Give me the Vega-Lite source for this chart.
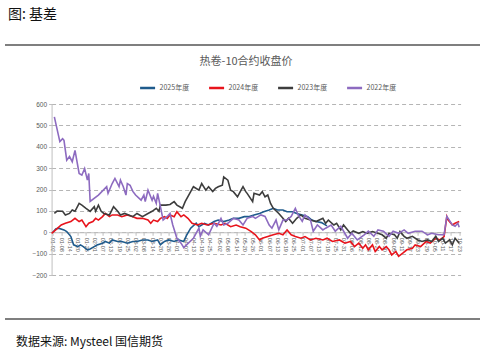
{
"$schema":"https://vega.github.io/schema/vega-lite/v6.json",
"padding":{"left":5,"right":5,"top":8,"bottom":3},
"autosize":{"type":"pad"},
"background":"#ffffff",
"title":{"text":"图: 基差","anchor":"start","fontSize":14,"fontWeight":"normal","font":"Noto Sans CJK SC","color":"#111111","offset":22,"dx":3},
"center":true,
"spacing":10,
"resolve":{"legend":{"color":"independent"}},
"config":{"view":{"stroke":null},"font":"Noto Sans CJK SC"},
"vconcat":[
{"width":504,"height":2,"data":{"values":[]},"mark":"rule","encoding":{},"view":{"fill":"#7f7f7f","stroke":null}},
{"width":409,"height":171,
"title":{"text":"热卷-10合约收盘价","fontSize":11,"fontWeight":"normal","color":"#595959","font":"Noto Sans CJK SC","frame":"group","offset":12,"dx":-10},
"data":{"values":[
{"s":"2025年度","d":"2020-01-02","v":0},{"s":"2025年度","d":"2020-01-04","v":15},{"s":"2025年度","d":"2020-01-06","v":19},{"s":"2025年度","d":"2020-01-10","v":11},{"s":"2025年度","d":"2020-01-12","v":3},{"s":"2025年度","d":"2020-01-15","v":-20},{"s":"2025年度","d":"2020-01-17","v":-59},{"s":"2025年度","d":"2020-01-20","v":-67},{"s":"2025年度","d":"2020-01-22","v":-59},{"s":"2025年度","d":"2020-01-24","v":-67},{"s":"2025年度","d":"2020-01-27","v":-82},{"s":"2025年度","d":"2020-01-29","v":-78},{"s":"2025年度","d":"2020-02-01","v":-67},{"s":"2025年度","d":"2020-02-03","v":-59},{"s":"2025年度","d":"2020-02-07","v":-51},{"s":"2025年度","d":"2020-02-09","v":-43},{"s":"2025年度","d":"2020-02-12","v":-51},{"s":"2025年度","d":"2020-02-14","v":-36},{"s":"2025年度","d":"2020-02-18","v":-43},{"s":"2025年度","d":"2020-02-21","v":-43},{"s":"2025年度","d":"2020-02-25","v":-51},{"s":"2025年度","d":"2020-02-29","v":-43},{"s":"2025年度","d":"2020-03-03","v":-43},{"s":"2025年度","d":"2020-03-07","v":-36},{"s":"2025年度","d":"2020-03-11","v":-36},{"s":"2025年度","d":"2020-03-14","v":-43},{"s":"2025年度","d":"2020-03-18","v":-36},{"s":"2025年度","d":"2020-03-20","v":-59},{"s":"2025年度","d":"2020-03-23","v":-43},{"s":"2025年度","d":"2020-03-26","v":-36},{"s":"2025年度","d":"2020-03-30","v":-43},{"s":"2025年度","d":"2020-04-02","v":-36},{"s":"2025年度","d":"2020-04-06","v":-43},{"s":"2025年度","d":"2020-04-08","v":-15},{"s":"2025年度","d":"2020-04-11","v":19},{"s":"2025年度","d":"2020-04-15","v":42},{"s":"2025年度","d":"2020-04-17","v":26},{"s":"2025年度","d":"2020-04-21","v":42},{"s":"2025年度","d":"2020-04-24","v":34},{"s":"2025年度","d":"2020-04-28","v":50},{"s":"2025年度","d":"2020-05-01","v":57},{"s":"2025年度","d":"2020-05-05","v":50},{"s":"2025年度","d":"2020-05-09","v":57},{"s":"2025年度","d":"2020-05-12","v":65},{"s":"2025年度","d":"2020-05-16","v":65},{"s":"2025年度","d":"2020-05-20","v":73},{"s":"2025年度","d":"2020-05-23","v":73},{"s":"2025年度","d":"2020-05-27","v":81},{"s":"2025年度","d":"2020-05-31","v":88},{"s":"2025年度","d":"2020-06-03","v":96},{"s":"2025年度","d":"2020-06-07","v":104},{"s":"2025年度","d":"2020-06-10","v":112},{"s":"2025年度","d":"2020-06-13","v":104},{"s":"2025年度","d":"2020-06-17","v":104},{"s":"2025年度","d":"2020-06-20","v":96},{"s":"2025年度","d":"2020-06-24","v":96},{"s":"2025年度","d":"2020-06-27","v":88},{"s":"2025年度","d":"2020-07-01","v":81},{"s":"2025年度","d":"2020-07-05","v":73},{"s":"2025年度","d":"2020-07-08","v":57},{"s":"2025年度","d":"2020-07-11","v":50},{"s":"2025年度","d":"2020-07-15","v":45},{"s":"2025年度","d":"2020-07-19","v":30},
{"s":"2024年度","d":"2020-01-01","v":-5},{"s":"2024年度","d":"2020-01-04","v":11},{"s":"2024年度","d":"2020-01-08","v":34},{"s":"2024年度","d":"2020-01-11","v":42},{"s":"2024年度","d":"2020-01-15","v":50},{"s":"2024年度","d":"2020-01-18","v":65},{"s":"2024年度","d":"2020-01-21","v":50},{"s":"2024年度","d":"2020-01-23","v":57},{"s":"2024年度","d":"2020-01-26","v":26},{"s":"2024年度","d":"2020-01-28","v":42},{"s":"2024年度","d":"2020-01-31","v":50},{"s":"2024年度","d":"2020-02-02","v":65},{"s":"2024年度","d":"2020-02-04","v":57},{"s":"2024年度","d":"2020-02-07","v":73},{"s":"2024年度","d":"2020-02-09","v":88},{"s":"2024年度","d":"2020-02-12","v":73},{"s":"2024年度","d":"2020-02-14","v":81},{"s":"2024年度","d":"2020-02-18","v":81},{"s":"2024年度","d":"2020-02-21","v":73},{"s":"2024年度","d":"2020-02-25","v":81},{"s":"2024年度","d":"2020-02-29","v":73},{"s":"2024年度","d":"2020-03-03","v":65},{"s":"2024年度","d":"2020-03-07","v":65},{"s":"2024年度","d":"2020-03-11","v":57},{"s":"2024年度","d":"2020-03-13","v":42},{"s":"2024年度","d":"2020-03-15","v":57},{"s":"2024年度","d":"2020-03-18","v":50},{"s":"2024年度","d":"2020-03-20","v":65},{"s":"2024年度","d":"2020-03-23","v":73},{"s":"2024年度","d":"2020-03-25","v":65},{"s":"2024年度","d":"2020-03-27","v":81},{"s":"2024年度","d":"2020-03-30","v":73},{"s":"2024年度","d":"2020-04-01","v":96},{"s":"2024年度","d":"2020-04-04","v":73},{"s":"2024年度","d":"2020-04-06","v":81},{"s":"2024年度","d":"2020-04-09","v":65},{"s":"2024年度","d":"2020-04-12","v":42},{"s":"2024年度","d":"2020-04-16","v":34},{"s":"2024年度","d":"2020-04-19","v":42},{"s":"2024年度","d":"2020-04-23","v":34},{"s":"2024年度","d":"2020-04-28","v":42},{"s":"2024年度","d":"2020-05-03","v":34},{"s":"2024年度","d":"2020-05-06","v":42},{"s":"2024年度","d":"2020-05-10","v":26},{"s":"2024年度","d":"2020-05-14","v":34},{"s":"2024年度","d":"2020-05-17","v":26},{"s":"2024年度","d":"2020-05-21","v":19},{"s":"2024年度","d":"2020-05-25","v":3},{"s":"2024年度","d":"2020-05-28","v":-12},{"s":"2024年度","d":"2020-05-31","v":-36},{"s":"2024年度","d":"2020-06-02","v":-28},{"s":"2024年度","d":"2020-06-06","v":-20},{"s":"2024年度","d":"2020-06-10","v":-12},{"s":"2024年度","d":"2020-06-14","v":-5},{"s":"2024年度","d":"2020-06-17","v":-12},{"s":"2024年度","d":"2020-06-20","v":11},{"s":"2024年度","d":"2020-06-23","v":-12},{"s":"2024年度","d":"2020-06-26","v":-20},{"s":"2024年度","d":"2020-06-30","v":-28},{"s":"2024年度","d":"2020-07-03","v":-20},{"s":"2024年度","d":"2020-07-07","v":-36},{"s":"2024年度","d":"2020-07-11","v":-28},{"s":"2024年度","d":"2020-07-16","v":-36},{"s":"2024年度","d":"2020-07-19","v":-28},{"s":"2024年度","d":"2020-07-23","v":-43},{"s":"2024年度","d":"2020-07-28","v":-36},{"s":"2024年度","d":"2020-08-01","v":-51},{"s":"2024年度","d":"2020-08-05","v":-43},{"s":"2024年度","d":"2020-08-08","v":-67},{"s":"2024年度","d":"2020-08-11","v":-51},{"s":"2024年度","d":"2020-08-14","v":-75},{"s":"2024年度","d":"2020-08-16","v":-59},{"s":"2024年度","d":"2020-08-18","v":-82},{"s":"2024年度","d":"2020-08-21","v":-59},{"s":"2024年度","d":"2020-08-23","v":-90},{"s":"2024年度","d":"2020-08-26","v":-67},{"s":"2024年度","d":"2020-08-28","v":-82},{"s":"2024年度","d":"2020-08-31","v":-67},{"s":"2024年度","d":"2020-09-02","v":-82},{"s":"2024年度","d":"2020-09-04","v":-106},{"s":"2024年度","d":"2020-09-07","v":-90},{"s":"2024年度","d":"2020-09-09","v":-113},{"s":"2024年度","d":"2020-09-12","v":-98},{"s":"2024年度","d":"2020-09-15","v":-82},{"s":"2024年度","d":"2020-09-19","v":-75},{"s":"2024年度","d":"2020-09-21","v":-59},{"s":"2024年度","d":"2020-09-25","v":-67},{"s":"2024年度","d":"2020-09-29","v":-43},{"s":"2024年度","d":"2020-10-02","v":-51},{"s":"2024年度","d":"2020-10-06","v":-28},{"s":"2024年度","d":"2020-10-09","v":-36},{"s":"2024年度","d":"2020-10-12","v":-20},{"s":"2024年度","d":"2020-10-14","v":73},{"s":"2024年度","d":"2020-10-15","v":57},{"s":"2024年度","d":"2020-10-18","v":34},{"s":"2024年度","d":"2020-10-20","v":42},{"s":"2024年度","d":"2020-10-23","v":50},
{"s":"2023年度","d":"2020-01-03","v":88},{"s":"2023年度","d":"2020-01-05","v":99},{"s":"2023年度","d":"2020-01-09","v":98},{"s":"2023年度","d":"2020-01-11","v":81},{"s":"2023年度","d":"2020-01-14","v":88},{"s":"2023年度","d":"2020-01-16","v":104},{"s":"2023年度","d":"2020-01-18","v":98},{"s":"2023年度","d":"2020-01-21","v":135},{"s":"2023年度","d":"2020-01-23","v":127},{"s":"2023年度","d":"2020-01-26","v":112},{"s":"2023年度","d":"2020-01-29","v":98},{"s":"2023年度","d":"2020-02-01","v":120},{"s":"2023年度","d":"2020-02-02","v":98},{"s":"2023年度","d":"2020-02-04","v":127},{"s":"2023年度","d":"2020-02-06","v":98},{"s":"2023年度","d":"2020-02-08","v":88},{"s":"2023年度","d":"2020-02-12","v":81},{"s":"2023年度","d":"2020-02-15","v":120},{"s":"2023年度","d":"2020-02-18","v":98},{"s":"2023年度","d":"2020-02-20","v":81},{"s":"2023年度","d":"2020-02-23","v":88},{"s":"2023年度","d":"2020-02-26","v":81},{"s":"2023年度","d":"2020-02-29","v":73},{"s":"2023年度","d":"2020-03-03","v":88},{"s":"2023年度","d":"2020-03-07","v":73},{"s":"2023年度","d":"2020-03-11","v":88},{"s":"2023年度","d":"2020-03-14","v":98},{"s":"2023年度","d":"2020-03-17","v":112},{"s":"2023年度","d":"2020-03-19","v":98},{"s":"2023年度","d":"2020-03-20","v":127},{"s":"2023年度","d":"2020-03-24","v":127},{"s":"2023年度","d":"2020-03-27","v":130},{"s":"2023年度","d":"2020-03-30","v":143},{"s":"2023年度","d":"2020-04-01","v":127},{"s":"2023年度","d":"2020-04-05","v":112},{"s":"2023年度","d":"2020-04-07","v":143},{"s":"2023年度","d":"2020-04-11","v":190},{"s":"2023年度","d":"2020-04-13","v":213},{"s":"2023年度","d":"2020-04-17","v":197},{"s":"2023年度","d":"2020-04-19","v":228},{"s":"2023年度","d":"2020-04-22","v":197},{"s":"2023年度","d":"2020-04-24","v":213},{"s":"2023年度","d":"2020-04-27","v":190},{"s":"2023年度","d":"2020-04-29","v":205},{"s":"2023年度","d":"2020-05-01","v":213},{"s":"2023年度","d":"2020-05-04","v":220},{"s":"2023年度","d":"2020-05-05","v":259},{"s":"2023年度","d":"2020-05-08","v":244},{"s":"2023年度","d":"2020-05-10","v":197},{"s":"2023年度","d":"2020-05-12","v":190},{"s":"2023年度","d":"2020-05-15","v":166},{"s":"2023年度","d":"2020-05-17","v":190},{"s":"2023年度","d":"2020-05-19","v":213},{"s":"2023年度","d":"2020-05-21","v":190},{"s":"2023年度","d":"2020-05-22","v":182},{"s":"2023年度","d":"2020-05-26","v":143},{"s":"2023年度","d":"2020-05-27","v":182},{"s":"2023年度","d":"2020-05-31","v":174},{"s":"2023年度","d":"2020-06-02","v":190},{"s":"2023年度","d":"2020-06-04","v":166},{"s":"2023年度","d":"2020-06-06","v":174},{"s":"2023年度","d":"2020-06-08","v":135},{"s":"2023年度","d":"2020-06-10","v":112},{"s":"2023年度","d":"2020-06-14","v":88},{"s":"2023年度","d":"2020-06-17","v":65},{"s":"2023年度","d":"2020-06-19","v":50},{"s":"2023年度","d":"2020-06-21","v":65},{"s":"2023年度","d":"2020-06-24","v":42},{"s":"2023年度","d":"2020-06-27","v":65},{"s":"2023年度","d":"2020-06-30","v":81},{"s":"2023年度","d":"2020-07-03","v":65},{"s":"2023年度","d":"2020-07-07","v":57},{"s":"2023年度","d":"2020-07-11","v":50},{"s":"2023年度","d":"2020-07-16","v":65},{"s":"2023年度","d":"2020-07-18","v":42},{"s":"2023年度","d":"2020-07-20","v":57},{"s":"2023年度","d":"2020-07-24","v":34},{"s":"2023年度","d":"2020-07-26","v":42},{"s":"2023年度","d":"2020-07-29","v":11},{"s":"2023年度","d":"2020-07-31","v":34},{"s":"2023年度","d":"2020-08-03","v":11},{"s":"2023年度","d":"2020-08-05","v":-5},{"s":"2023年度","d":"2020-08-07","v":6},{"s":"2023年度","d":"2020-08-11","v":-5},{"s":"2023年度","d":"2020-08-14","v":3},{"s":"2023年度","d":"2020-08-17","v":-5},{"s":"2023年度","d":"2020-08-21","v":3},{"s":"2023年度","d":"2020-08-25","v":-5},{"s":"2023年度","d":"2020-08-28","v":-12},{"s":"2023年度","d":"2020-08-31","v":-28},{"s":"2023年度","d":"2020-09-02","v":-5},{"s":"2023年度","d":"2020-09-06","v":-12},{"s":"2023年度","d":"2020-09-08","v":-28},{"s":"2023年度","d":"2020-09-10","v":3},{"s":"2023年度","d":"2020-09-13","v":-19},{"s":"2023年度","d":"2020-09-15","v":-28},{"s":"2023年度","d":"2020-09-19","v":-19},{"s":"2023年度","d":"2020-09-23","v":-36},{"s":"2023年度","d":"2020-09-26","v":-43},{"s":"2023年度","d":"2020-09-30","v":-36},{"s":"2023年度","d":"2020-10-03","v":-43},{"s":"2023年度","d":"2020-10-06","v":-19},{"s":"2023年度","d":"2020-10-08","v":-43},{"s":"2023年度","d":"2020-10-11","v":-28},{"s":"2023年度","d":"2020-10-13","v":-51},{"s":"2023年度","d":"2020-10-16","v":-36},{"s":"2023年度","d":"2020-10-18","v":-59},{"s":"2023年度","d":"2020-10-20","v":-28},{"s":"2023年度","d":"2020-10-23","v":-51},
{"s":"2022年度","d":"2020-01-03","v":540},{"s":"2022年度","d":"2020-01-07","v":424},{"s":"2022年度","d":"2020-01-09","v":438},{"s":"2022年度","d":"2020-01-10","v":430},{"s":"2022年度","d":"2020-01-12","v":337},{"s":"2022年度","d":"2020-01-14","v":354},{"s":"2022年度","d":"2020-01-16","v":330},{"s":"2022年度","d":"2020-01-18","v":383},{"s":"2022年度","d":"2020-01-21","v":275},{"s":"2022年度","d":"2020-01-23","v":267},{"s":"2022年度","d":"2020-01-25","v":298},{"s":"2022年度","d":"2020-01-27","v":244},{"s":"2022年度","d":"2020-01-28","v":275},{"s":"2022年度","d":"2020-01-29","v":144},{"s":"2022年度","d":"2020-02-04","v":174},{"s":"2022年度","d":"2020-02-10","v":213},{"s":"2022年度","d":"2020-02-11","v":182},{"s":"2022年度","d":"2020-02-14","v":228},{"s":"2022年度","d":"2020-02-16","v":252},{"s":"2022年度","d":"2020-02-19","v":214},{"s":"2022年度","d":"2020-02-20","v":244},{"s":"2022年度","d":"2020-02-22","v":214},{"s":"2022年度","d":"2020-02-24","v":174},{"s":"2022年度","d":"2020-02-25","v":228},{"s":"2022年度","d":"2020-02-27","v":220},{"s":"2022年度","d":"2020-02-29","v":191},{"s":"2022年度","d":"2020-03-02","v":174},{"s":"2022年度","d":"2020-03-06","v":150},{"s":"2022年度","d":"2020-03-08","v":174},{"s":"2022年度","d":"2020-03-09","v":144},{"s":"2022年度","d":"2020-03-11","v":197},{"s":"2022年度","d":"2020-03-14","v":150},{"s":"2022年度","d":"2020-03-15","v":168},{"s":"2022年度","d":"2020-03-17","v":135},{"s":"2022年度","d":"2020-03-18","v":182},{"s":"2022年度","d":"2020-03-20","v":121},{"s":"2022年度","d":"2020-03-22","v":57},{"s":"2022年度","d":"2020-03-25","v":74},{"s":"2022年度","d":"2020-03-27","v":88},{"s":"2022年度","d":"2020-03-29","v":34},{"s":"2022年度","d":"2020-04-01","v":-28},{"s":"2022年度","d":"2020-04-04","v":-51},{"s":"2022年度","d":"2020-04-06","v":-72},{"s":"2022年度","d":"2020-04-08","v":-59},{"s":"2022年度","d":"2020-04-13","v":-28},{"s":"2022年度","d":"2020-04-17","v":19},{"s":"2022年度","d":"2020-04-18","v":-19},{"s":"2022年度","d":"2020-04-20","v":11},{"s":"2022年度","d":"2020-04-24","v":-12},{"s":"2022年度","d":"2020-04-28","v":42},{"s":"2022年度","d":"2020-04-30","v":28},{"s":"2022年度","d":"2020-05-03","v":65},{"s":"2022年度","d":"2020-05-05","v":34},{"s":"2022年度","d":"2020-05-08","v":42},{"s":"2022年度","d":"2020-05-12","v":65},{"s":"2022年度","d":"2020-05-16","v":57},{"s":"2022年度","d":"2020-05-19","v":34},{"s":"2022年度","d":"2020-05-22","v":65},{"s":"2022年度","d":"2020-05-26","v":74},{"s":"2022年度","d":"2020-05-28","v":65},{"s":"2022年度","d":"2020-06-01","v":81},{"s":"2022年度","d":"2020-06-04","v":74},{"s":"2022年度","d":"2020-06-07","v":34},{"s":"2022年度","d":"2020-06-09","v":19},{"s":"2022年度","d":"2020-06-12","v":57},{"s":"2022年度","d":"2020-06-14","v":11},{"s":"2022年度","d":"2020-06-17","v":57},{"s":"2022年度","d":"2020-06-20","v":57},{"s":"2022年度","d":"2020-06-23","v":74},{"s":"2022年度","d":"2020-06-26","v":112},{"s":"2022年度","d":"2020-06-28","v":81},{"s":"2022年度","d":"2020-07-01","v":51},{"s":"2022年度","d":"2020-07-03","v":81},{"s":"2022年度","d":"2020-07-07","v":57},{"s":"2022年度","d":"2020-07-09","v":5},{"s":"2022年度","d":"2020-07-12","v":34},{"s":"2022年度","d":"2020-07-16","v":11},{"s":"2022年度","d":"2020-07-18","v":19},{"s":"2022年度","d":"2020-07-22","v":34},{"s":"2022年度","d":"2020-07-25","v":5},{"s":"2022年度","d":"2020-07-29","v":28},{"s":"2022年度","d":"2020-08-03","v":-28},{"s":"2022年度","d":"2020-08-06","v":-5},{"s":"2022年度","d":"2020-08-10","v":-36},{"s":"2022年度","d":"2020-08-15","v":-12},{"s":"2022年度","d":"2020-08-18","v":5},{"s":"2022年度","d":"2020-08-22","v":-19},{"s":"2022年度","d":"2020-08-25","v":11},{"s":"2022年度","d":"2020-08-29","v":5},{"s":"2022年度","d":"2020-09-02","v":-19},{"s":"2022年度","d":"2020-09-05","v":5},{"s":"2022年度","d":"2020-09-09","v":-5},{"s":"2022年度","d":"2020-09-13","v":11},{"s":"2022年度","d":"2020-09-16","v":-5},{"s":"2022年度","d":"2020-09-21","v":5},{"s":"2022年度","d":"2020-09-26","v":5},{"s":"2022年度","d":"2020-09-30","v":-12},{"s":"2022年度","d":"2020-10-03","v":-5},{"s":"2022年度","d":"2020-10-08","v":-12},{"s":"2022年度","d":"2020-10-12","v":-12},{"s":"2022年度","d":"2020-10-14","v":74},{"s":"2022年度","d":"2020-10-15","v":65},{"s":"2022年度","d":"2020-10-18","v":34},{"s":"2022年度","d":"2020-10-20","v":28},{"s":"2022年度","d":"2020-10-22","v":42},{"s":"2022年度","d":"2020-10-23","v":23}
]},
"mark":{"type":"line","strokeWidth":1.6},
"encoding":{
"x":{"field":"d","type":"temporal",
"scale":{"domain":[{"year":2020,"month":1,"date":1},{"year":2020,"month":10,"date":24}],"nice":false},
"axis":{"title":" ","titlePadding":45,"offset":-42.75,"format":"%m-%d","labelAngle":90,"labelFontSize":5.5,"labelColor":"#595959","labelFont":"Liberation Sans","labelOverlap":false,"labelPadding":2,"grid":false,"domainColor":"#bfbfbf","tickColor":"#bfbfbf","tickSize":3,
"values":[{"year":2020,"month":1,"date":2},{"year":2020,"month":1,"date":8},{"year":2020,"month":1,"date":14},{"year":2020,"month":1,"date":20},{"year":2020,"month":1,"date":26},{"year":2020,"month":2,"date":1},{"year":2020,"month":2,"date":7},{"year":2020,"month":2,"date":13},{"year":2020,"month":2,"date":19},{"year":2020,"month":2,"date":25},{"year":2020,"month":3,"date":2},{"year":2020,"month":3,"date":8},{"year":2020,"month":3,"date":14},{"year":2020,"month":3,"date":20},{"year":2020,"month":3,"date":26},{"year":2020,"month":4,"date":1},{"year":2020,"month":4,"date":7},{"year":2020,"month":4,"date":13},{"year":2020,"month":4,"date":19},{"year":2020,"month":4,"date":25},{"year":2020,"month":5,"date":2},{"year":2020,"month":5,"date":8},{"year":2020,"month":5,"date":14},{"year":2020,"month":5,"date":20},{"year":2020,"month":5,"date":26},{"year":2020,"month":6,"date":1},{"year":2020,"month":6,"date":7},{"year":2020,"month":6,"date":13},{"year":2020,"month":6,"date":19},{"year":2020,"month":6,"date":25},{"year":2020,"month":7,"date":1},{"year":2020,"month":7,"date":7},{"year":2020,"month":7,"date":13},{"year":2020,"month":7,"date":19},{"year":2020,"month":7,"date":25},{"year":2020,"month":7,"date":31},{"year":2020,"month":8,"date":6},{"year":2020,"month":8,"date":12},{"year":2020,"month":8,"date":18},{"year":2020,"month":8,"date":24},{"year":2020,"month":8,"date":30},{"year":2020,"month":9,"date":5},{"year":2020,"month":9,"date":11},{"year":2020,"month":9,"date":17},{"year":2020,"month":9,"date":23},{"year":2020,"month":9,"date":29},{"year":2020,"month":10,"date":5},{"year":2020,"month":10,"date":11},{"year":2020,"month":10,"date":17},{"year":2020,"month":10,"date":23}]}},
"y":{"field":"v","type":"quantitative","scale":{"domain":[-200,600],"nice":false,"zero":false},
"axis":{"title":" ","titlePadding":7,"values":[-200,-100,0,100,200,300,400,500,600],"grid":true,"gridDash":[4,3],"gridColor":"#b5b5b5","labelFontSize":6.5,"labelColor":"#595959","labelFont":"Liberation Sans","domainColor":"#bfbfbf","tickColor":"#bfbfbf","tickSize":3,"labelPadding":2}},
"color":{"field":"s","type":"nominal",
"scale":{"domain":["2025年度","2024年度","2023年度","2022年度"],"range":["#1f5b8c","#e8141c","#3d3d3d","#8d6bc0"]},
"legend":{"orient":"none","legendX":87,"legendY":-25,"direction":"horizontal","title":null,"symbolType":"stroke","symbolStrokeWidth":2.5,"symbolSize":225,"labelFontSize":7,"labelColor":"#595959","labelFont":"Noto Sans CJK SC","columnPadding":14,"labelOffset":3}}
}},
{"width":504,"height":2,"data":{"values":[]},"mark":"rule","encoding":{},"view":{"fill":"#7f7f7f","stroke":null},
"title":{"text":"数据来源: Mysteel 国信期货","orient":"bottom","anchor":"start","fontSize":12,"fontWeight":"normal","font":"Noto Sans CJK SC","color":"#111111","offset":17,"dx":11}}
]
}
